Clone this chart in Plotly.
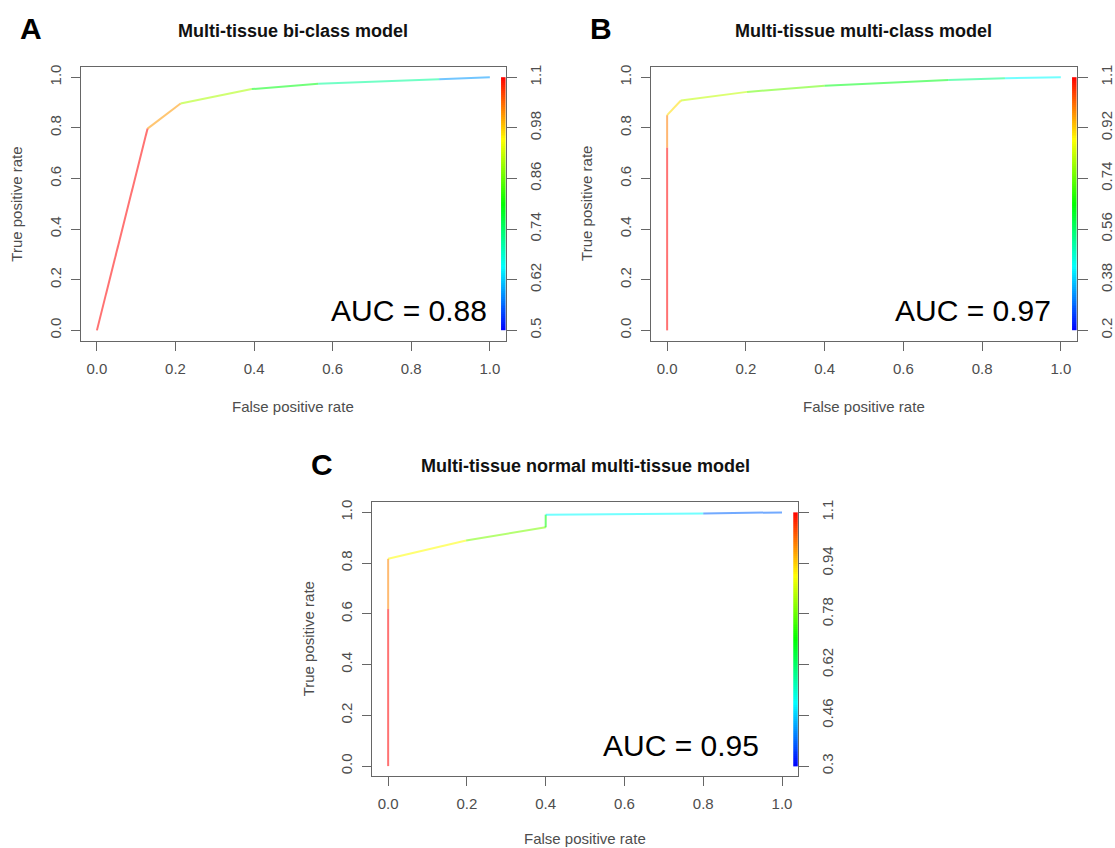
import numpy as np
import plotly.graph_objects as go
from plotly.colors import sample_colorscale

W, H = 1115, 848

# ---- ROC data: false positive rate, true positive rate, cutoff at each point ----
fpr_a = [0.0, 0.129, 0.213, 0.394, 0.563, 0.871, 1.0]
tpr_a = [0.0, 0.797, 0.896, 0.953, 0.974, 0.992, 1.0]
cut_a = [1.10, 1.01, 0.90, 0.79, 0.71, 0.59, 0.50]
cbar_ticks_a = ["0.5", "0.62", "0.74", "0.86", "0.98", "1.1"]

fpr_b = [0.0, 0.0, 0.0, 0.035, 0.203, 0.400, 0.714, 0.858, 1.0]
tpr_b = [0.0, 0.722, 0.850, 0.908, 0.942, 0.966, 0.989, 0.996, 1.0]
cut_b = [1.10, 0.99, 0.905, 0.82, 0.74, 0.63, 0.54, 0.425, 0.20]
cbar_ticks_b = ["0.2", "0.38", "0.56", "0.74", "0.92", "1.1"]

fpr_c = [0.0, 0.0, 0.0, 0.198, 0.400, 0.400, 0.800, 1.0]
tpr_c = [0.0, 0.619, 0.817, 0.889, 0.941, 0.991, 0.996, 1.0]
cut_c = [1.10, 0.996, 0.90, 0.796, 0.70, 0.50, 0.38, 0.30]
cbar_ticks_c = ["0.3", "0.46", "0.62", "0.78", "0.94", "1.1"]

axis_ticks = [0.0, 0.2, 0.4, 0.6, 0.8, 1.0]
axis_tick_text = ["0.0", "0.2", "0.4", "0.6", "0.8", "1.0"]

titles = ["Multi-tissue bi-class model",
          "Multi-tissue multi-class model",
          "Multi-tissue normal multi-tissue model"]
letters = ["A", "B", "C"]

# ---- panel placement (pixels: left, right, top, bottom) and AUC label spot ----
panels = [
    dict(fpr=fpr_a, tpr=tpr_a, cut=cut_a, cticks=cbar_ticks_a,
         box=(81.6, 508.3, 64.3, 338.7), auc_xy=(0.793, 0.079), xlab_dy=66),
    dict(fpr=fpr_b, tpr=tpr_b, cut=cut_b, cticks=cbar_ticks_b,
         box=(654.9, 1082.4, 64.3, 338.7), auc_xy=(0.776, 0.080), xlab_dy=66),
    dict(fpr=fpr_c, tpr=tpr_c, cut=cut_c, cticks=cbar_ticks_c,
         box=(374.4, 802.1, 501.0, 776.0), auc_xy=(0.744, 0.081), xlab_dy=62),
]

FONT = "Liberation Sans, Arial, Helvetica, sans-serif"
RAINBOW = [[0.0, "rgb(0,0,255)"], [0.25, "rgb(0,255,255)"],
           [0.5, "rgb(0,255,0)"], [0.75, "rgb(255,255,0)"],
           [1.0, "rgb(255,0,0)"]]
AX_COLOR = "#666666"
TXT_COLOR = "#4d4d4d"
PAD = 0.04


def px_x(p):
    return p / W


def px_y(p):
    return 1 - p / H


fig = go.Figure()
axes = {}
annotations = []

for i, p in enumerate(panels):
    n = i + 1
    xa = "x" if n == 1 else f"x{n}"
    ya = "y" if n == 1 else f"y{n}"
    yr = f"y{n + 3}"
    left, right, top, bottom = p["box"]
    cvals = [float(t) for t in p["cticks"]]
    cmin, cmax = cvals[0], cvals[-1]
    span = cmax - cmin
    fpr, tpr, cut = p["fpr"], p["tpr"], p["cut"]

    # ROC curve, each segment coloured by its cutoff
    for k in range(len(fpr) - 1):
        frac = (cut[k] - cmin) / span
        col = sample_colorscale(RAINBOW, [frac])[0]
        fig.add_trace(go.Scatter(
            x=[fpr[k], fpr[k + 1]], y=[tpr[k], tpr[k + 1]], mode="lines",
            line=dict(color=col, width=2), opacity=0.55,
            xaxis=xa, yaxis=ya, showlegend=False, hoverinfo="skip"))

    # cutoff colour key along the right edge
    edges = np.linspace(cmin, cmax, 129)
    mids = (edges[:-1] + edges[1:]) / 2
    fig.add_trace(go.Heatmap(
        x=[1.0285, 1.04], y=edges, z=[[m] for m in mids],
        colorscale=RAINBOW, zmin=cmin, zmax=cmax, showscale=False,
        xaxis=xa, yaxis=yr, hoverinfo="skip"))

    tickfont = dict(size=15, color=TXT_COLOR, family=FONT)
    common = dict(showgrid=False, zeroline=False, ticks="outside",
                  tickcolor=AX_COLOR, tickwidth=1.3, tickfont=tickfont,
                  fixedrange=True)
    axes["xaxis" if n == 1 else f"xaxis{n}"] = dict(
        domain=[px_x(left), px_x(right)], range=[-PAD, 1 + PAD], anchor=ya,
        showline=True, mirror=True, linecolor=AX_COLOR, linewidth=1.3,
        ticklen=9, tickvals=axis_ticks, ticktext=axis_tick_text,
        ticklabelstandoff=5, **common)
    axes["yaxis" if n == 1 else f"yaxis{n}"] = dict(
        domain=[px_y(bottom), px_y(top)], range=[-PAD, 1 + PAD], anchor=xa,
        showline=True, mirror=True, linecolor=AX_COLOR, linewidth=1.3,
        ticklen=9, tickvals=axis_ticks, ticktext=axis_tick_text,
        tickangle=-90, ticklabelstandoff=4, **common)
    axes[f"yaxis{n + 3}"] = dict(
        overlaying=ya, anchor=xa, side="right",
        range=[cmin - PAD * span, cmax + PAD * span],
        showline=False, ticklen=10, tickvals=cvals, ticktext=p["cticks"],
        tickangle=-90, ticklabelstandoff=6, **common)

    cx = (left + right) / 2
    cy = (top + bottom) / 2
    annotations += [
        dict(text=f"<b>{letters[i]}</b>", x=px_x(left - 50.6), y=px_y(top - 38.3),
             font=dict(size=30, color="#000000", family=FONT)),
        dict(text=f"<b>{titles[i]}</b>", x=px_x(cx), y=px_y(top - 36.3),
             font=dict(size=18, color="#111111", family=FONT)),
        dict(text="False positive rate", x=px_x(cx), y=px_y(bottom + p["xlab_dy"]),
             font=dict(size=15, color=TXT_COLOR, family=FONT)),
        dict(text="True positive rate", x=px_x(left - 64.6), y=px_y(cy),
             textangle=-90, font=dict(size=15, color=TXT_COLOR, family=FONT)),
    ]
    auc = float(np.trapezoid(tpr, fpr))
    annotations.append(dict(
        text=f"AUC = {auc:.2f}", x=p["auc_xy"][0], y=p["auc_xy"][1],
        xref=xa, yref=ya, showarrow=False, xanchor="center", yanchor="middle",
        font=dict(size=30, color="#000000", family=FONT)))

for a in annotations:
    a.setdefault("xref", "paper")
    a.setdefault("yref", "paper")
    a.setdefault("showarrow", False)
    a.setdefault("xanchor", "center")
    a.setdefault("yanchor", "middle")

fig.update_layout(
    width=W, height=H, margin=dict(l=0, r=0, t=0, b=0),
    paper_bgcolor="white", plot_bgcolor="white",
    showlegend=False, annotations=annotations, **axes)

fig.write_html("out.html")
